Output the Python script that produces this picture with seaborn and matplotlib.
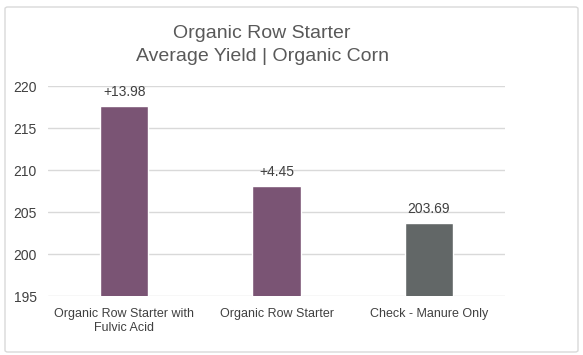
import matplotlib
matplotlib.use("Agg")
import matplotlib.pyplot as plt
import seaborn as sns
import pandas as pd
from matplotlib.patches import FancyBboxPatch

# data
treatments = ["Organic Row Starter with\nFulvic Acid", "Organic Row Starter", "Check - Manure Only"]
yields = [217.67, 208.14, 203.69]
bar_labels = ["+13.98", "+4.45", "203.69"]
bar_colors = ["#7a5474", "#7a5474", "#626767"]

sns.set_theme(style="white")
plt.rcParams['font.family'] = ['Liberation Sans Narrow', 'Liberation Sans', 'DejaVu Sans']

df = pd.DataFrame({"treatment": treatments, "yield": yields})

fig = plt.figure(figsize=(5.83, 3.55), dpi=100)
ax = fig.add_axes([48 / 583, 1 - 296 / 355, 457 / 583, 210 / 355])

sns.barplot(data=df, x="treatment", y="yield", hue="treatment", palette=bar_colors,
            width=0.316, legend=False, ax=ax, saturation=1)

ax.set_ylim(195, 220)
ax.set_yticks([195, 200, 205, 210, 215, 220])
ax.yaxis.grid(True, color="#d9d9d9", linewidth=1)
ax.set_axisbelow(True)
for s in ax.spines.values():
    s.set_visible(False)
ax.set_xlabel("")
ax.set_ylabel("")
ax.tick_params(axis="y", labelsize=10, colors="#404040", length=0, pad=8)
ax.tick_params(axis="x", labelsize=9, colors="#404040", length=0, pad=9)
ax.set_xlim(-0.5, 2.5)

for i, (v, lab) in enumerate(zip(yields, bar_labels)):
    ax.annotate(lab, (i, v), xytext=(0, 5), textcoords="offset points",
                ha="center", va="bottom", fontsize=10, color="#404040")

fig.text(262 / 583, 1 - 45 / 355, "Organic Row Starter\nAverage Yield | Organic Corn",
         ha="center", va="center", fontsize=14, color="#595959", linespacing=1.4)

border = FancyBboxPatch((5 / 583, 3 / 355), 573 / 583, 345 / 355,
                        boxstyle="round,pad=0,rounding_size=0.005",
                        transform=fig.transFigure, fill=False,
                        edgecolor="#d9d9d9", linewidth=1)
fig.patches.append(border)

fig.savefig("out.png", dpi=100)
